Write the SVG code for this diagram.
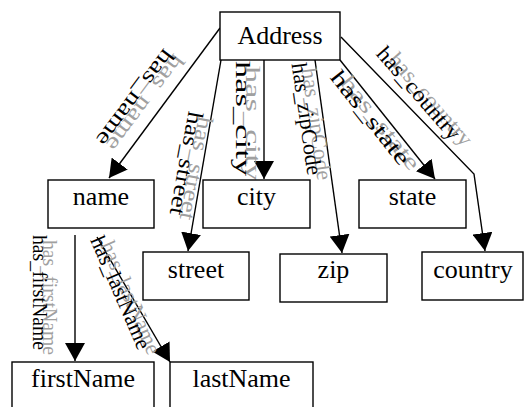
<svg xmlns="http://www.w3.org/2000/svg" width="530" height="407" viewBox="0 0 530 407" font-family="Liberation Serif, Times New Roman, serif">
<style>
.box{fill:#fff;stroke:#000;stroke-width:1.4}
.nt{font-size:26px;text-anchor:middle;fill:#000}
.e{fill:none;stroke:#000;stroke-width:1.4;marker-end:url(#arr)}
.lb{font-size:22px;text-anchor:middle;dominant-baseline:central;fill:#000}
.sh{fill:#a0a0a0}
</style>
<defs>
<marker id="arr" markerUnits="userSpaceOnUse" viewBox="0 0 18 20" refX="18" refY="10" markerWidth="18" markerHeight="20" orient="auto">
<path d="M0,0 L18,10 L0,20 z" fill="#000"/>
</marker>
</defs>
<rect width="530" height="407" fill="#fff"/>
<g id="connectors">
<path class="e" d="M220,28 L109,178"/>
<path class="e" d="M221,60 L188,251"/>
<path class="e" d="M264,60 L264,179"/>
<path class="e" d="M315,60 L342,253"/>
<path class="e" d="M340,60 L435,179"/>
<path class="e" d="M341,37 L474,174 L485,251"/>
<path class="e" d="M75,235 L75,361"/>
<path class="e" d="M97,237 L170,362"/>
<g class="lb sh">
<text transform="translate(145.5,103) rotate(126.9)" textLength="115" lengthAdjust="spacingAndGlyphs">has_name</text>
<text transform="translate(196.5,168.5) rotate(100.5)" textLength="105" lengthAdjust="spacingAndGlyphs">has_street</text>
<text transform="translate(253,123.5) rotate(90)" textLength="115" lengthAdjust="spacingAndGlyphs">has_city</text>
<text transform="translate(317,124) rotate(81.9)" textLength="113" lengthAdjust="spacingAndGlyphs">has_zipCode</text>
<text transform="translate(380.5,122.5) rotate(51.6)" textLength="114" lengthAdjust="spacingAndGlyphs">has_state</text>
<text transform="translate(431,99) rotate(49)" textLength="116" lengthAdjust="spacingAndGlyphs">has_country</text>
<text transform="translate(50,297.5) rotate(90)" textLength="115" lengthAdjust="spacingAndGlyphs">has_firstName</text>
<text transform="translate(131,297.5) rotate(66.6)" textLength="121" lengthAdjust="spacingAndGlyphs">has_lastName</text>
</g>
<g class="lb">
<text transform="translate(135.5,98) rotate(126.9)" textLength="115" lengthAdjust="spacingAndGlyphs">has_name</text>
<text transform="translate(186.5,163.5) rotate(100.5)" textLength="105" lengthAdjust="spacingAndGlyphs">has_street</text>
<text transform="translate(243,118.5) rotate(90)" textLength="115" lengthAdjust="spacingAndGlyphs">has_city</text>
<text transform="translate(307,119) rotate(81.9)" textLength="113" lengthAdjust="spacingAndGlyphs">has_zipCode</text>
<text transform="translate(370.5,117.5) rotate(51.6)" textLength="114" lengthAdjust="spacingAndGlyphs">has_state</text>
<text transform="translate(419,93) rotate(49)" textLength="116" lengthAdjust="spacingAndGlyphs">has_country</text>
<text transform="translate(40,292.5) rotate(90)" textLength="115" lengthAdjust="spacingAndGlyphs">has_firstName</text>
<text transform="translate(121,292.5) rotate(66.6)" textLength="121" lengthAdjust="spacingAndGlyphs">has_lastName</text>
</g>
</g>
<g id="Address"><rect class="box" x="220" y="12" width="120" height="48"/><text class="nt" x="280" y="44">Address</text></g>
<g id="name"><rect class="box" x="48" y="180" width="106" height="48"/><text class="nt" x="101" y="205">name</text></g>
<g id="city"><rect class="box" x="203" y="180" width="107" height="48"/><text class="nt" x="256.5" y="205">city</text></g>
<g id="state"><rect class="box" x="359" y="180" width="107" height="48"/><text class="nt" x="412.5" y="205">state</text></g>
<g id="street"><rect class="box" x="143" y="252" width="106" height="48"/><text class="nt" x="196" y="278">street</text></g>
<g id="zip"><rect class="box" x="280" y="254" width="107" height="48"/><text class="nt" x="333.5" y="278">zip</text></g>
<g id="country"><rect class="box" x="422" y="252" width="101" height="48"/><text class="nt" x="473" y="278">country</text></g>
<g id="firstName"><rect class="box" x="12" y="362" width="142" height="50"/><text class="nt" x="83" y="387">firstName</text></g>
<g id="lastName"><rect class="box" x="170" y="362" width="143" height="50"/><text class="nt" x="241.5" y="387">lastName</text></g>
</svg>
